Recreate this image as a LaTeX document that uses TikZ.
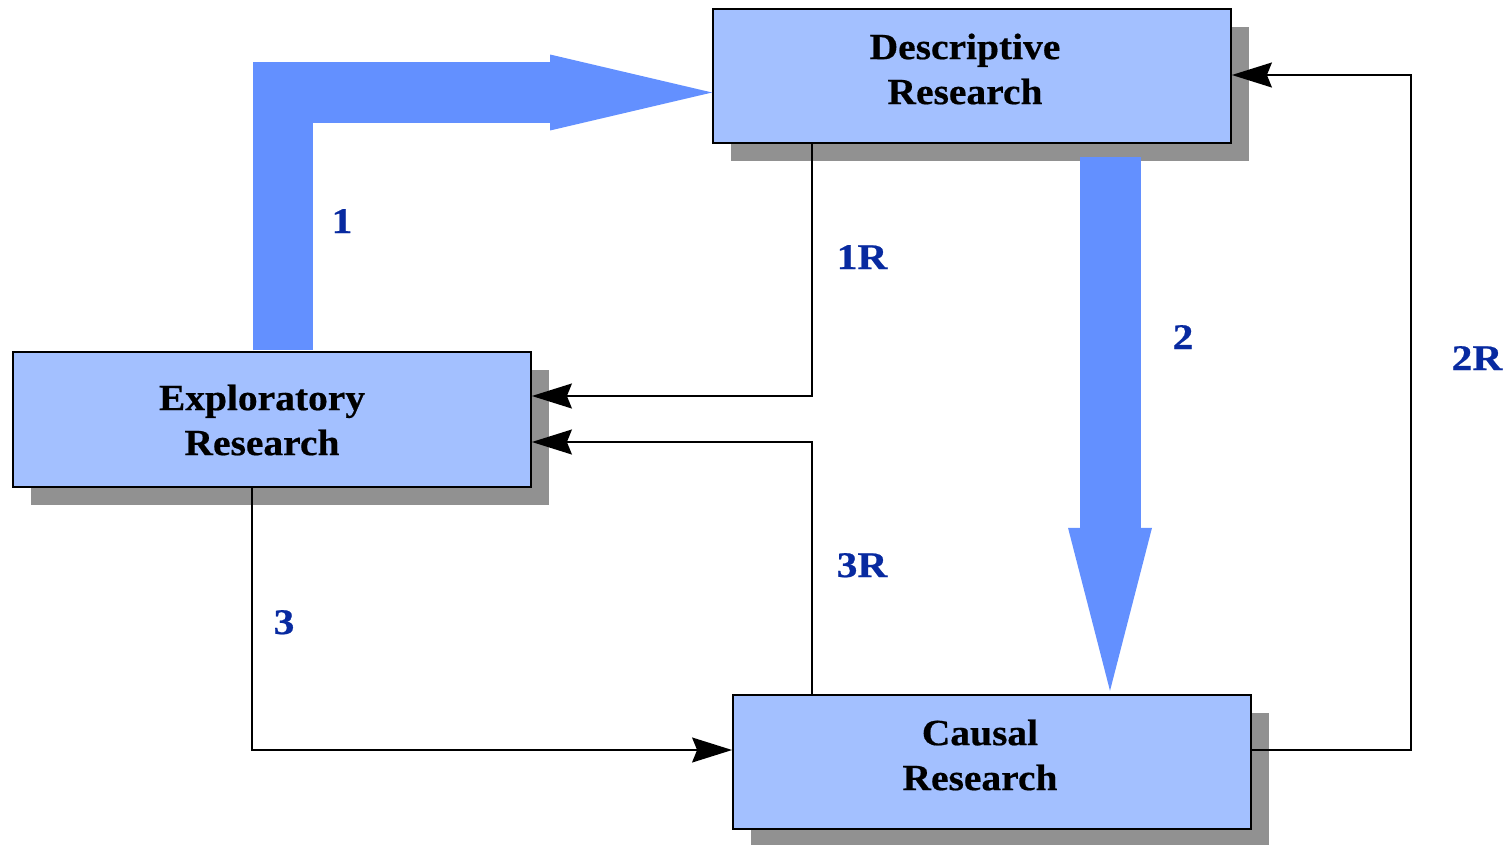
\documentclass[tikz,border=0pt]{standalone}
\usepackage{fontspec}
\setmainfont{Liberation Serif}
\newfontfamily\stagefont[FakeStretch=1.07,FakeBold=0.5]{Liberation Serif}
\newfontfamily\routefont[FakeStretch=1.15,FakeBold=0.6]{Liberation Serif}
\usetikzlibrary{arrows.meta,shadows,calc}
\definecolor{boxfill}{RGB}{163,192,255}
\definecolor{flowblue}{RGB}{99,144,255}
\definecolor{shadowgray}{RGB}{145,145,145}
\definecolor{labelblue}{RGB}{8,42,160}
\begin{document}
\begin{tikzpicture}[x=0.02cm,y=-0.02cm,
  stage/.style={draw=black, line width=1.1pt, fill=boxfill,
    minimum width=10.36cm, minimum height=2.69cm, inner sep=0pt,
    drop shadow={shadow xshift=0.36cm, shadow yshift=-0.36cm, fill=shadowgray, opacity=1}},
  stagetext/.style={align=center, inner sep=0pt, font=\stagefont\fontsize{21}{25.6}\selectfont\bfseries},
  flowlabel/.style={anchor=base, inner sep=0pt, text=labelblue, font=\routefont\fontsize{20.5}{24}\selectfont\bfseries},
  feedback/.style={draw=black, line width=0.85pt, -{Stealth[length=0.8cm,width=0.5cm,inset=0.1cm]}},
  bigflow/.style={draw=flowblue, line width=1.22cm, line join=miter}
]
\useasboundingbox (0,0) rectangle (1511,845);

% research stages
\node[stage] (desc) at (972,76) {};
\node[stage] (expl) at (272,419.5) {};
\node[stage] (caus) at (992,762) {};
\node[stagetext] (desc-t) at (965,69) {Descriptive\\Research};
\node[stagetext] (expl-t) at (262,420) {Exploratory\\Research};
\node[stagetext] (caus-t) at (980,755) {Causal\\Research};

% bend points of the connectors
\coordinate (k1) at (283,92.5);
\coordinate (k2) at (1110,0);
\coordinate (r1) at (812,396);
\coordinate (r3) at (812,442);
\coordinate (c3) at (252,750);
\coordinate (c2) at (1411,750);
\coordinate (t2) at (1411,75);

% main sequence: broad block arrows
\draw[bigflow, -{Triangle[length=3.24cm,width=1.52cm,line width=0pt]}]
  ($(expl.north -| k1)+(0,-1)$) -- (k1) -- (desc.west |- k1);
\draw[bigflow, -{Triangle[length=3.26cm,width=1.68cm,line width=0pt]}]
  ($(desc.south -| k2)+(0,13)$) -- ($(caus.north -| k2)+(0,-3)$);

% other routes and feedback
\draw[feedback] (desc.south -| r1) -- (r1) -- (expl.east |- r1);
\draw[feedback] (caus.north -| r3) -- (r3) -- (expl.east |- r3);
\draw[feedback] (expl.south -| c3) -- (c3) -- (caus.west |- c3);
\draw[feedback] (caus.east |- c2) -- (c2) -- (t2) -- (desc.east |- t2);

% route labels
\node[flowlabel] (l1)  at (342,233)  {1};
\node[flowlabel] (l1r) at (862,269)  {1R};
\node[flowlabel] (l2)  at (1183,349) {2};
\node[flowlabel] (l2r) at (1477,370) {2R};
\node[flowlabel] (l3)  at (284,634)  {3};
\node[flowlabel] (l3r) at (862,577)  {3R};
\end{tikzpicture}
\end{document}
